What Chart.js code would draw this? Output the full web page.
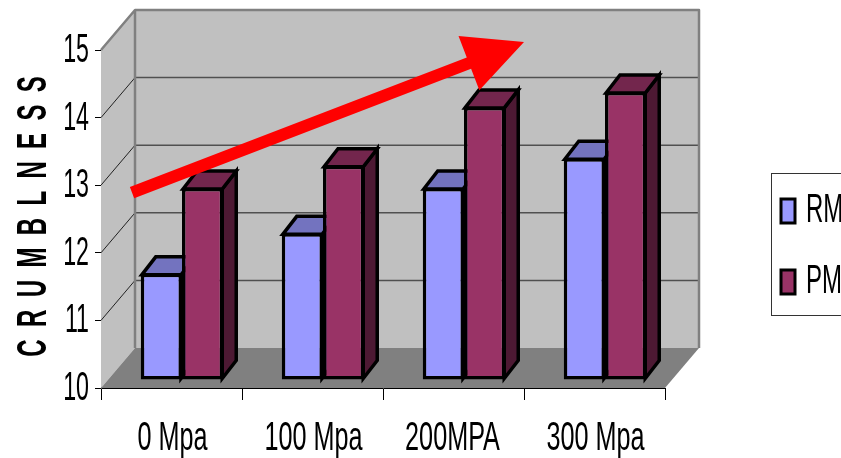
<!DOCTYPE html>
<html>
<head>
<meta charset="utf-8">
<script src="https://cdn.jsdelivr.net/npm/chart.js@4"></script>
<style>
  html, body { margin: 0; padding: 0; background: #fff; overflow: hidden; }
  canvas { display: block; }
</style>
</head>
<body>
<canvas id="chart" width="841" height="458"></canvas>
<script>
  const categories = ['0 Mpa', '100 Mpa', '200MPA', '300 Mpa'];
  const rmValues = [11.57, 12.17, 12.84, 13.28];
  const pmValues = [12.84, 13.17, 14.04, 14.26];
  const yTitle = 'C R U M B L N E S S';
  const yMin = 10, yMax = 15;

  // arrow ends, in category index / axis value
  const arrowFrom = [-0.28, 12.89];
  const arrowTo = [2.5, 15.12];

  // oblique depth of the walls and where the bars sit in it
  const wallDx = 34, wallDy = -40;
  const barShiftX = 10.5, barShiftY = -8;
  const barDx = 14, barDy = -18;

  const font = '40px "Liberation Sans", Arial, sans-serif';

  function poly(ctx, pts, fill, stroke, lw) {
    ctx.beginPath();
    pts.forEach((p, i) => i ? ctx.lineTo(p[0], p[1]) : ctx.moveTo(p[0], p[1]));
    ctx.closePath();
    if (fill) { ctx.fillStyle = fill; ctx.fill(); }
    if (stroke) { ctx.strokeStyle = stroke; ctx.lineWidth = lw; ctx.stroke(); }
  }

  // text squeezed horizontally, the reference fonts are very condensed
  function squeezed(ctx, text, x, y, sx, align, f, spacing) {
    ctx.save();
    ctx.translate(x, y);
    ctx.scale(sx, 1);
    ctx.font = f || font;
    ctx.letterSpacing = spacing || '0px';
    ctx.fillStyle = '#000';
    ctx.textAlign = align;
    ctx.textBaseline = 'alphabetic';
    ctx.fillText(text, 0, 0);
    ctx.restore();
  }

  const walls = {
    id: 'walls',
    beforeDatasetsDraw(chart) {
      const ctx = chart.ctx, a = chart.chartArea, y = chart.scales.y;
      const l = a.left, r = a.right, t = a.top, b = a.bottom;

      ctx.save();
      ctx.lineJoin = 'round';
      // back wall, side wall, floor
      poly(ctx, [[l + wallDx, t + wallDy], [r + wallDx, t + wallDy], [r + wallDx, b + wallDy], [l + wallDx, b + wallDy]], '#c0c0c0');
      poly(ctx, [[l, t], [l + wallDx, t + wallDy], [l + wallDx, b + wallDy], [l, b]], '#c0c0c0');

      y.ticks.forEach(tick => {
        const py = y.getPixelForValue(tick.value);
        if (tick.value > y.min) {
          ctx.beginPath();
          ctx.moveTo(l, py);
          ctx.lineTo(l + wallDx, py + wallDy);
          ctx.strokeStyle = '#222';
          ctx.lineWidth = 1;
          ctx.stroke();
        }
        if (tick.value > y.min && tick.value < y.max) {
          ctx.beginPath();
          ctx.moveTo(l + wallDx, py + wallDy);
          ctx.lineTo(r + wallDx, py + wallDy);
          ctx.strokeStyle = '#505050';
          ctx.lineWidth = 1.5;
          ctx.stroke();
        }
      });

      poly(ctx, [[l, b], [r, b], [r + wallDx, b + wallDy], [l + wallDx, b + wallDy]], '#808080');

      // grey frame of the walls
      ctx.beginPath();
      ctx.moveTo(l, t);
      ctx.lineTo(l + wallDx, t + wallDy);
      ctx.lineTo(r + wallDx, t + wallDy);
      ctx.lineTo(r + wallDx, b + wallDy);
      ctx.moveTo(l + wallDx, t + wallDy);
      ctx.lineTo(l + wallDx, b + wallDy);
      ctx.strokeStyle = '#808080';
      ctx.lineWidth = 2.5;
      ctx.stroke();
      ctx.restore();

      // bars are drawn by the library, moved into the depth of the box
      ctx.save();
      ctx.translate(barShiftX, barShiftY);
      ctx.lineJoin = 'miter';
      chart.getSortedVisibleDatasetMetas().forEach(meta => {
        const shade = chart.data.datasets[meta.index].shades;
        meta.data.forEach(bar => {
          const p = bar.getProps(['x', 'y', 'base', 'width']);
          const x0 = p.x - p.width / 2 + 1, x1 = p.x + p.width / 2 - 1;
          const yt = p.y + 1, yb = p.base - 1;
          poly(ctx, [[x1, yt], [x1 + barDx, yt + barDy], [x1 + barDx, yb + barDy], [x1, yb]], shade[1], '#000', 3.5);
          poly(ctx, [[x0, yt], [x0 + barDx, yt + barDy], [x1 + barDx, yt + barDy], [x1, yt]], shade[0], '#000', 3.5);
        });
      });
    },
    afterDatasetsDraw(chart) {
      chart.ctx.restore();
    },
    afterDraw(chart) {
      const ctx = chart.ctx, x = chart.scales.x, y = chart.scales.y;

      // arrow
      const x0 = x.getPixelForValue(arrowFrom[0]), y0 = y.getPixelForValue(arrowFrom[1]);
      const x1 = x.getPixelForValue(arrowTo[0]), y1 = y.getPixelForValue(arrowTo[1]);
      const len = Math.hypot(x1 - x0, y1 - y0);
      const ux = (x1 - x0) / len, uy = (y1 - y0) / len;
      const nx = -uy, ny = ux;
      const hx = x1 - ux * 59, hy = y1 - uy * 59;
      const sw = 6, hw = 29;
      poly(ctx, [
        [x0 + nx * sw, y0 + ny * sw], [hx + nx * sw, hy + ny * sw], [hx + nx * hw, hy + ny * hw],
        [x1, y1],
        [hx - nx * hw, hy - ny * hw], [hx - nx * sw, hy - ny * sw], [x0 - nx * sw, y0 - ny * sw]
      ], '#ff0000');

      // tick labels
      y.ticks.forEach(tick => {
        squeezed(ctx, String(tick.value), 89, y.getPixelForValue(tick.value) + 12, 0.58, 'right');
      });
      categories.forEach((c, i) => {
        squeezed(ctx, c, x.getPixelForValue(i) + (i == 2 ? -1 : 1), 450, 0.63, 'center');
      });

      // axis title
      ctx.save();
      ctx.translate(46, 215);
      ctx.rotate(-Math.PI / 2);
      squeezed(ctx, yTitle, 0, 0, 0.56, 'center', 'bold 43px "Liberation Sans", Arial, sans-serif', '5px');
      ctx.restore();

      // legend
      ctx.save();
      ctx.fillStyle = '#fff';
      ctx.fillRect(771.5, 173.5, 80, 142);
      ctx.strokeStyle = '#333';
      ctx.lineWidth = 1;
      ctx.strokeRect(771.5, 173.5, 80, 142);
      chart.data.datasets.forEach((ds, i) => {
        const top = 199 + i * 71;
        ctx.fillStyle = ds.backgroundColor;
        ctx.strokeStyle = '#000';
        ctx.lineWidth = 3;
        ctx.fillRect(781, top, 14, 24);
        ctx.strokeRect(781, top, 14, 24);
        squeezed(ctx, ds.label, 806, top + 23, 0.6, 'left');
      });
      ctx.restore();
    }
  };

  new Chart(document.getElementById('chart'), {
    type: 'bar',
    data: {
      labels: categories,
      datasets: [
        { label: 'RM', data: rmValues, backgroundColor: '#9999ff', shades: ['#7373bf', '#4d4d80'] },
        { label: 'PM', data: pmValues, backgroundColor: '#993366', shades: ['#73264d', '#4d1933'] }
      ]
    },
    options: {
      responsive: false,
      animation: false,
      layout: { padding: { left: 101, top: 50, right: 176, bottom: 70 } },
      datasets: {
        bar: {
          categoryPercentage: 0.585,
          barPercentage: 1,
          base: yMin,
          borderColor: '#000',
          borderWidth: 3.5,
          borderSkipped: false,
          clip: false
        }
      },
      plugins: { legend: { display: false }, tooltip: { enabled: false } },
      scales: {
        x: {
          afterFit(scale) { scale.height = 0; },
          ticks: { display: false },
          grid: { drawOnChartArea: false, color: '#000', tickLength: 12 },
          border: { color: '#000' }
        },
        y: {
          min: yMin,
          max: yMax,
          afterFit(scale) { scale.width = 0; },
          ticks: { display: false, stepSize: 1 },
          grid: { drawOnChartArea: false, color: '#000', tickLength: 6 },
          border: { color: '#555' }
        }
      }
    },
    plugins: [walls]
  });
</script>
</body>
</html>
